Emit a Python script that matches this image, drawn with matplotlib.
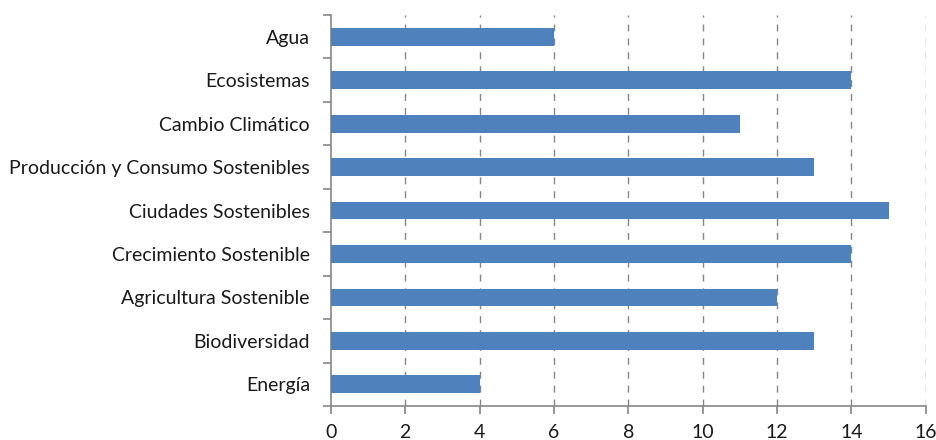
import matplotlib.pyplot as plt
import numpy as np

categories = ["Energía", "Biodiversidad", "Agricultura Sostenible", "Crecimiento Sostenible",
              "Ciudades Sostenibles", "Producción y Consumo Sostenibles", "Cambio Climático",
              "Ecosistemas", "Agua"]
values = [4, 13, 12, 14, 15, 13, 11, 14, 6]
xticks = list(range(0, 17, 2))

plt.rcParams['font.family'] = ['Lato', 'DejaVu Sans']

fig = plt.figure(figsize=(9.37, 4.40), dpi=100)
ax = fig.add_axes([0.353, 0.077, 0.635, 0.889])

y = np.arange(len(categories))
ax.barh(y, values, height=0.41, color='#4F81BD', zorder=3)

ax.set_xlim(0, 16)
ax.set_ylim(-0.5, len(categories) - 0.5)
ax.set_xticks(xticks)
ax.set_yticks(y)
ax.set_yticklabels(categories)
ax.set_yticks(np.arange(-0.5, len(categories)), minor=True)

gc = '#868686'
for x in xticks[1:]:
    ax.axvline(x, color=gc, linestyle=(0, (5, 5)), linewidth=1, zorder=1)

for s in ['top', 'right']:
    ax.spines[s].set_visible(False)
ax.spines['left'].set_color(gc)
ax.spines['bottom'].set_color(gc)
ax.spines['left'].set_linewidth(1.2)
ax.spines['bottom'].set_linewidth(1.2)

ax.tick_params(axis='y', which='major', length=0, pad=15, labelsize=14, labelcolor='#1a1a1a')
ax.tick_params(axis='y', which='minor', length=6, color=gc, width=1.2)
ax.tick_params(axis='x', length=6, color=gc, width=1.2, labelsize=14, pad=7, labelcolor='#1a1a1a')

fig.savefig('out.png', dpi=100)
